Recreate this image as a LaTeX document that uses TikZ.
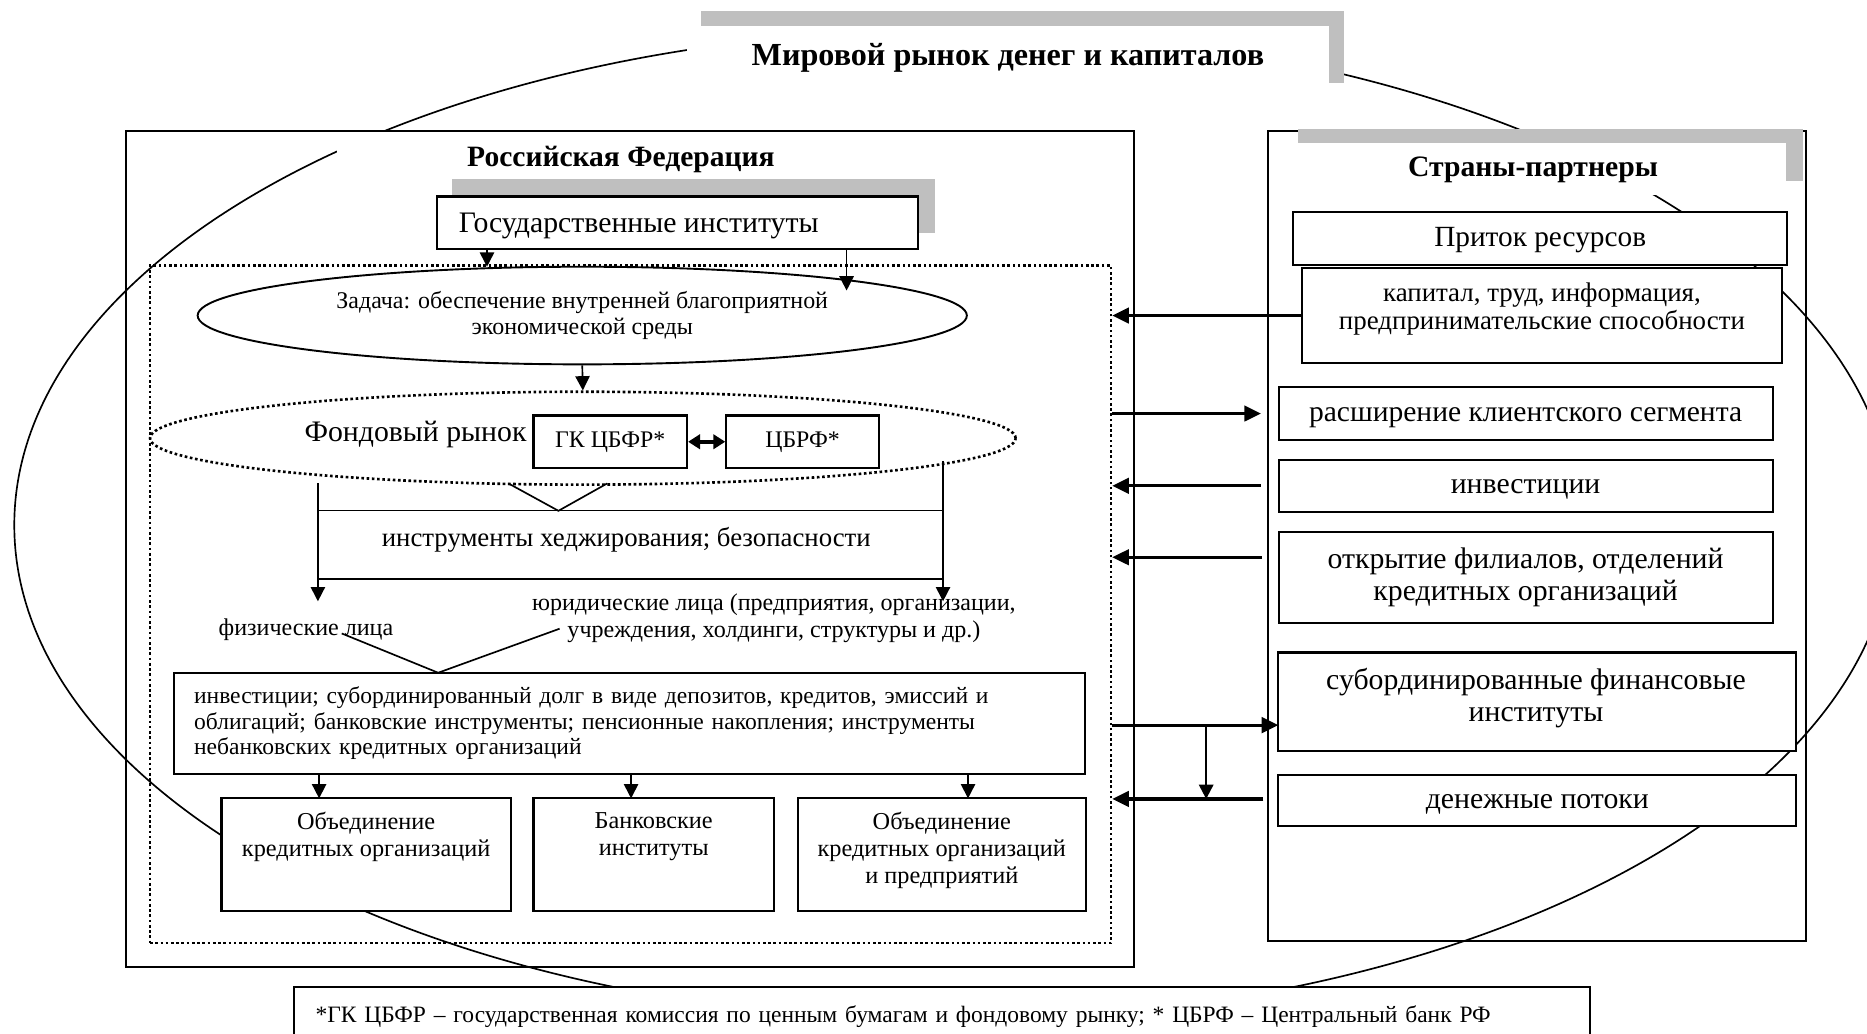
\documentclass[tikz,border=0pt]{standalone}
\usepackage{fontspec}
\setmainfont{Liberation Serif}
\usetikzlibrary{arrows.meta,shapes.geometric}
\definecolor{shadowgray}{RGB}{191,191,191}
\newcommand\mybox[7]{\node[#6, minimum width={(#4-(#2))*0.5pt}, minimum height={(#5-(#3))*0.5pt}] (#1) at ({(#2+#4)/2},{(#3+#5)/2}) {#7};}
\newcommand\fsz[2]{\fontsize{#1}{#2}\selectfont}
\begin{document}
\begin{tikzpicture}[x=0.5pt,y=-0.5pt,
  whitebox/.style={draw, line width=0.9pt, fill=white, inner sep=0pt, align=center},
  outerframe/.style={draw, line width=0.8pt, inner sep=0pt},
  blankbox/.style={fill=white, inner sep=0pt, align=center},
  grayshadow/.style={fill=shadowgray, inner sep=0pt},
  dotline/.style={line width=1.1pt, dash pattern=on 1.1pt off 1.1pt},
  bigcurve/.style={line width=0.7pt},
  arr/.style={line width=0.7pt, -{Triangle[length=6pt,width=6pt]}},
  harr/.style={line width=1.3pt, -{Triangle[length=7pt,width=6.5pt]}},
  thinline/.style={line width=0.7pt},
  txt/.style={inner sep=0pt, align=center},
  fixline/.style={text height=0.85em, text depth=0.2em},
]
\useasboundingbox (0,0) rectangle (1568,868);
\draw[bigcurve] (801,441) ellipse [x radius=394.5pt, y radius=208pt];

% world title
\mybox{wshade}{589}{9}{1129}{70}{grayshadow}{}
\mybox{wtitle}{577}{22}{1116}{76}{blankbox, font=\fsz{13.5}{15}\bfseries}{Мировой рынок денег и капиталов}

% Russian Federation
\mybox{rftitle}{283}{111}{760}{157}{blankbox, font=\fsz{12.4}{15}\bfseries}{Российская Федерация}
\mybox{rf}{106}{110}{952}{812}{outerframe}{}
\mybox{dots}{126}{223}{933}{792}{draw, inner sep=0pt, dotline}{}

\mybox{govshade}{380}{150}{785}{196}{grayshadow}{}
\mybox{gov}{367}{165}{771}{209}{whitebox}{}
\node[txt, anchor=west, font=\fsz{12.5}{14}] (govtext) at (385,190) {Государственные институты};

\node[draw, ellipse, line width=0.8pt, inner sep=0pt, minimum width=323pt, minimum height=41pt, align=center, font=\fsz{10.05}{10.6}] (task) at (489,265) {Задача: обеспечение внутренней благоприятной\\экономической среды};

\coordinate (g1e) at (409,224);
\coordinate (g2e) at (711,244);
\draw[arr] (gov.south -| g1e) -- (g1e);
\draw[arr] (gov.south -| g2e) -- (g2e);

\node[draw, ellipse, dotline, inner sep=0pt, minimum width=363.5pt, minimum height=39pt] (fond) at (489.5,368) {};
\draw[arr] (task.south) -- (fond.north);
\node[txt, font=\fsz{12.5}{14}] (fondtext) at (349,365) {Фондовый рынок};
\mybox{gk}{448}{349}{577}{393}{whitebox, font=\fsz{10}{12}}{ГК ЦБФР*}
\mybox{cbrf}{610}{349}{738}{393}{whitebox, font=\fsz{10}{12}}{ЦБРФ*}
\draw[line width=1.5pt, {Triangle[length=5pt,width=6pt]}-{Triangle[length=5pt,width=6pt]}] (gk.east) -- (cbrf.west);

% hedging
\mybox{hedge}{267}{429}{792}{486}{txt}{}
\node[txt, font=\fsz{11.25}{13}] (hedgetext) at (526,453) {инструменты хеджирования; безопасности};
\draw[thinline] (hedge.north west) -- (hedge.north east);
\draw[thinline] (hedge.south west) -- (hedge.south east);
\coordinate (va) at (427,406);
\coordinate (vb) at (510,406);
\coordinate (vc) at (469,429);
\draw[thinline] (va) -- (vc) -- (vb);
\coordinate (hl) at (267,406);
\coordinate (hr) at (792,387);
\coordinate (hle) at (267,505);
\coordinate (hre) at (792,505);
\draw[arr] (hl) -- (hle);
\draw[arr] (hr) -- (hre);

\node[txt, font=\fsz{10.1}{11.5}] (phys) at (257,529) {физические лица};
\node[txt, font=\fsz{10.1}{11.2}] (jur) at (650,519) {юридические лица (предприятия, организации,\\учреждения, холдинги, структуры и др.)};

\mybox{inv}{146}{565}{911}{650}{whitebox, align=left, text width=365.5pt, inner xsep=8.5pt, font=\fsz{9.88}{10.7}}{инвестиции; субординированный долг в виде депозитов, кредитов, эмиссий и\\облигаций; банковские инструменты; пенсионные накопления; инструменты\\небанковских кредитных организаций}
\coordinate (pa) at (287,532);
\coordinate (pb) at (470,528);
\coordinate (pc) at (368,565);
\draw[thinline] (pa) -- (pc) -- (pb);

\mybox{b1}{186}{670.5}{429}{765}{whitebox}{}
\mybox{b2}{448}{670.5}{650}{765}{whitebox}{}
\mybox{b3}{670}{670.5}{912}{765}{whitebox}{}
\node[txt, anchor=north, font=\fsz{10.2}{11.3}] (b1t) at (307.5,682) {Объединение\\кредитных организаций};
\node[txt, anchor=north, font=\fsz{10.2}{11.3}] (b2t) at (549,682) {Банковские\\институты};
\node[txt, anchor=north, font=\fsz{10.2}{11.3}] (b3t) at (791,682) {Объединение\\кредитных организаций\\и предприятий};
\coordinate (a1) at (268,670.5);
\coordinate (a2) at (530,670.5);
\coordinate (a3) at (813,670.5);
\draw[arr] (inv.south -| a1) -- (a1);
\draw[arr] (inv.south -| a2) -- (a2);
\draw[arr] (inv.south -| a3) -- (a3);

% partner countries
\mybox{sp}{1065}{110}{1517}{790}{outerframe}{}
\mybox{spshade}{1090}{108}{1514}{152}{grayshadow}{}
\mybox{sptitle}{1075}{120}{1500}{164}{blankbox, fixline, font=\fsz{12.45}{15}\bfseries}{Страны-партнеры}
\mybox{inflow}{1086}{178}{1501}{222.6}{whitebox, fixline, font=\fsz{12.3}{14}}{Приток ресурсов}
\mybox{cap}{1093.5}{225}{1496.6}{305}{whitebox}{}
\node[txt, font=\fsz{11.3}{11.5}] (captext) at (1295,259.5) {капитал, труд, информация,\\предпринимательские способности};
\mybox{ext}{1073.8}{325}{1488.7}{369.6}{whitebox, fixline, font=\fsz{12.4}{14}}{расширение клиентского сегмента}
\mybox{invr}{1073.8}{386}{1488.7}{430}{whitebox, fixline, font=\fsz{12.5}{14}}{инвестиции}
\mybox{open}{1073.8}{447}{1488.7}{523}{whitebox, font=\fsz{12.5}{13.4}}{открытие филиалов, отделений\\кредитных организаций}
\mybox{sub}{1073.6}{548}{1508.6}{630.5}{whitebox}{}
\node[txt, font=\fsz{12.5}{13.4}] (subtext) at (1290,586) {субординированные финансовые\\институты};
\mybox{money}{1073.6}{651}{1508.6}{694}{whitebox, fixline, font=\fsz{12.5}{14}}{денежные потоки}

\draw[harr] (cap.west) -- (cap.west -| dots.east);
\coordinate (r2) at (1059,347.3);
\draw[harr] (r2 -| dots.east) -- (r2);
\coordinate (r3) at (1059,408);
\draw[harr] (r3) -- (r3 -| dots.east);
\coordinate (r4) at (1060,468);
\draw[harr] (r4) -- (r4 -| dots.east);
\coordinate (r5) at (1073.6,609);
\draw[harr] (r5 -| dots.east) -- (r5);
\coordinate (r6) at (1013,609);
\coordinate (r7) at (1013,671);
\draw[arr, line width=0.9pt] (r6) -- (r7);
\coordinate (r8) at (1061,671);
\draw[harr] (r8) -- (r8 -| dots.east);

% footnote
\mybox{foot}{247}{829}{1335}{878}{whitebox, align=left, text width=526pt, inner xsep=9pt, font=\fsz{9.86}{12}}{*ГК ЦБФР – государственная комиссия по ценным бумагам и фондовому рынку; * ЦБРФ – Центральный банк РФ}
\end{tikzpicture}
\end{document}
